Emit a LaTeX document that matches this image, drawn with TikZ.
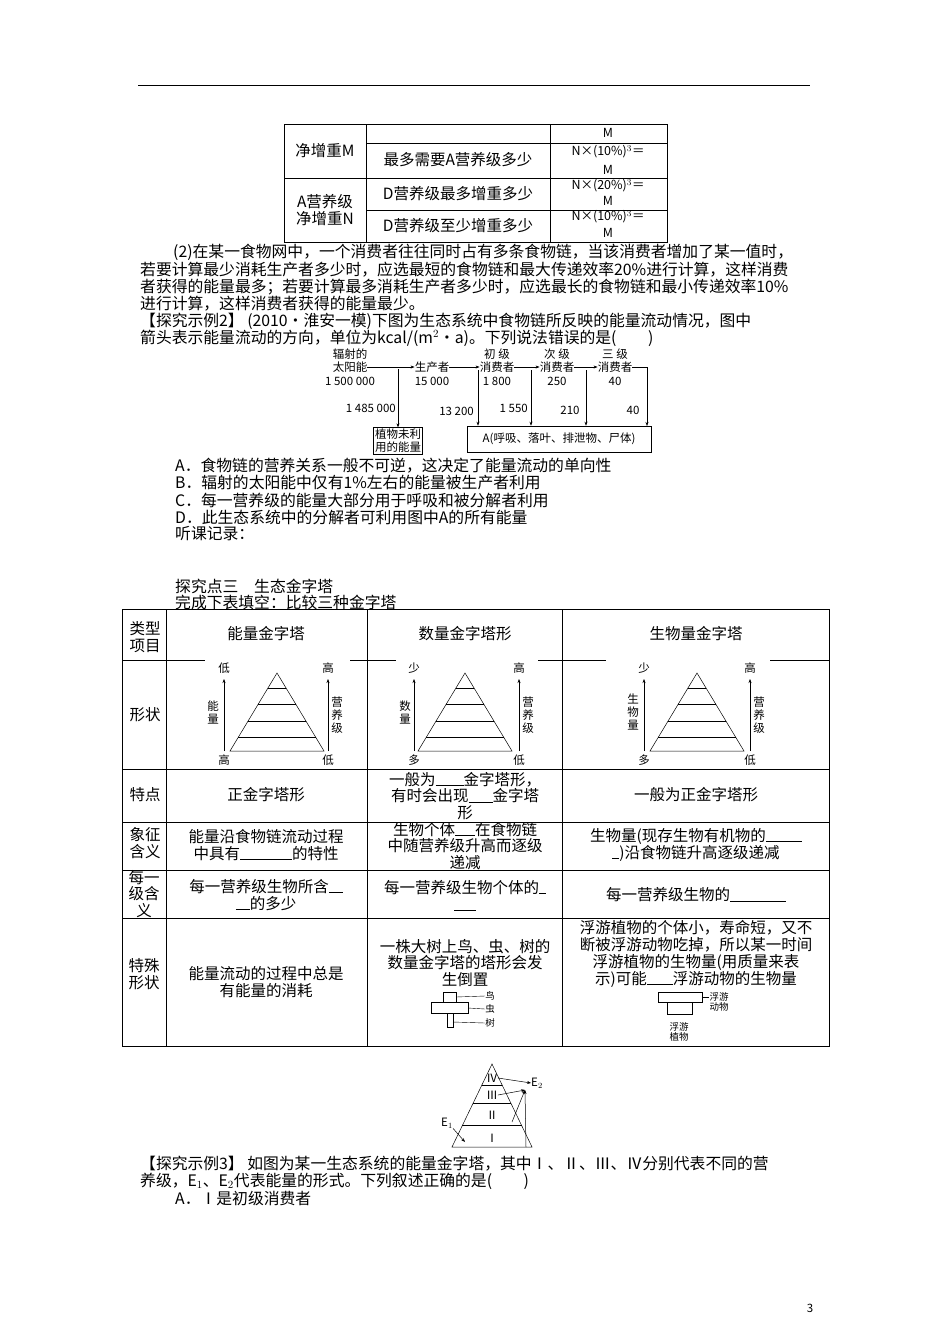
\documentclass[tikz,border=0pt]{standalone}
\usepackage{fontspec}
\setmainfont{Noto Sans CJK SC}
\usetikzlibrary{arrows.meta}
\begin{document}
\begin{tikzpicture}[x=1pt,y=-1pt,
  t/.style={anchor=west,inner sep=0,font=\fontsize{15.8}{17}\selectfont},
  c/.style={inner sep=0,font=\fontsize{15.5}{16.8}\selectfont},
  sm/.style={inner sep=0,font=\fontsize{11.5}{13}\selectfont},
  mm/.style={inner sep=0,font=\fontsize{12.5}{14}\selectfont},
  tn/.style={inner sep=0,font=\fontsize{9.5}{10.5}\selectfont},
  arr/.style={-{Stealth[length=4pt,width=3pt]},line width=0.5pt},
  ln/.style={line width=0.6pt}]
\useasboundingbox (0,0) rectangle (950,1344);
\fill[white] (0,0) rectangle (950,1344);
\draw[line width=0.8pt] (138,85) -- (810,85);
% top table
\draw[ln] (284,124) rectangle (667,242);
\draw[ln] (366,124)--(366,242) (550,124)--(550,242);
\draw[ln] (366,143)--(667,143) (284,178)--(667,178) (366,210)--(667,210);
\node[c] (ta) at (325,151) {净增重M};
\node[c,align=center] (tb) at (325,210) {A营养级\\净增重N};
\node[c] (tc) at (458,160) {最多需要A营养级多少};
\node[c] (td) at (458,194) {D营养级最多增重多少};
\node[c] (te) at (458,226) {D营养级至少增重多少};
\node[mm] at (608,133) {M};
\node[mm] at (608,152) {N×(10\%)$^3$＝};
\node[mm] at (608,170) {M};
\node[mm] at (608,186) {N×(20\%)$^3$＝};
\node[mm] at (608,201) {M};
\node[mm] at (608,217) {N×(10\%)$^3$＝};
\node[mm] at (608,233) {M};
% paragraph
\node[t] at (173,252) {(2)在某一食物网中，一个消费者往往同时占有多条食物链，当该消费者增加了某一值时，};
\node[t] at (140,270) {若要计算最少消耗生产者多少时，应选最短的食物链和最大传递效率20\%进行计算，这样消费};
\node[t] at (140,287) {者获得的能量最多；若要计算最多消耗生产者多少时，应选最长的食物链和最小传递效率10\%};
\node[t] at (140,304) {进行计算，这样消费者获得的能量最少。};
\node[t] at (140,321) {【探究示例2】 (2010·淮安一模)下图为生态系统中食物链所反映的能量流动情况，图中};
\node[t] at (140,338) {箭头表示能量流动的方向，单位为kcal/(m$^2$·a)。下列说法错误的是(　　)};
% energy flow diagram
\node[sm] at (350,354) {辐射的};
\node[sm] (sun) at (350,367) {太阳能};
\node[sm] at (350,381) {1 500 000};
\node[sm] (prod) at (432,367) {生产者};
\node[sm] at (432,381) {15 000};
\node[sm] at (497,354) {初 级};
\node[sm] (c1) at (497,367) {消费者};
\node[sm] at (497,381) {1 800};
\node[sm] at (557,354) {次 级};
\node[sm] (c2) at (557,367) {消费者};
\node[sm] at (557,381) {250};
\node[sm] at (615,354) {三 级};
\node[sm] (c3) at (615,367) {消费者};
\node[sm] at (615,381) {40};
\draw[arr] (sun.east)--(prod.west);
\draw[arr] (prod.east)--(c1.west);
\draw[arr] (c1.east)--(c2.west);
\draw[arr] (c2.east)--(c3.west);
\node[sm,draw,align=center,inner sep=1.5pt,line width=0.6pt] (un) at (398,441) {植物未利\\用的能量};
\node[sm,draw,inner sep=4pt,minimum width=184pt,minimum height=26pt,line width=0.6pt] (A) at (559,439) {A(呼吸、落叶、排泄物、尸体)};
\coordinate (p0) at (398,369);
\coordinate (p1) at (478,370);
\coordinate (p2) at (531,370);
\coordinate (p3) at (586,370);
\draw[arr] (p0)--(un.north);
\draw[arr] (p1)--(p1|-A.north);
\draw[arr] (p2)--(p2|-A.north);
\draw[arr] (p3)--(p3|-A.north);
\draw[arr] (c3.east)--(647,367)--(647,426);
\node[sm,anchor=east] at (396,408) {1 485 000};
\node[sm,anchor=east] at (474,411) {13 200};
\node[sm,anchor=east] at (528,408) {1 550};
\node[sm] at (570,410) {210};
\node[sm] at (633,410) {40};
% options
\node[t] at (175,466) {A．食物链的营养关系一般不可逆，这决定了能量流动的单向性};
\node[t] at (175,483) {B．辐射的太阳能中仅有1\%左右的能量被生产者利用};
\node[t] at (175,500) {C．每一营养级的能量大部分用于呼吸和被分解者利用};
\node[t] at (175,517) {D．此生态系统中的分解者可利用图中A的所有能量};
\node[t] at (175,534) {听课记录：};
\node[t] at (175,586) {探究点三　生态金字塔};
\node[t] at (175,602) {完成下表填空：比较三种金字塔};
% big table
\draw[ln] (122,609) rectangle (829,1046);
\draw[ln] (166,609)--(166,1046) (367,609)--(367,1046) (562,609)--(562,1046);
\draw[ln] (122,660)--(205,660) (350,660)--(396,660) (538,660)--(606,660) (770,660)--(829,660);
\draw[ln] (122,769)--(829,769) (122,822)--(829,822) (122,870)--(829,870) (122,918)--(829,918);
\node[c,align=center] at (145,637) {类型\\项目};
\node[c] at (266,634) {能量金字塔};
\node[c] at (465,634) {数量金字塔形};
\node[c] at (696,634) {生物量金字塔};
\node[c] at (145,715) {形状};
% pyramids
\foreach \ax/\la/\ra/\lt/\lb/\vl/\vx in {277/224/328/低/高/能\\量/213, 465/414/519/少/多/数\\量/405, 697/644/750/少/多/生\\物\\量/633}{
  \draw[line width=0.5pt] (\ax,673)--(\ax-47,751)--(\ax+47,751)--cycle;
  \foreach \yy in {688,704,721,737}{
    \pgfmathsetmacro\dd{47*(\yy-673)/78}
    \draw[line width=0.5pt] (\ax-\dd,\yy)--(\ax+\dd,\yy);}
  \draw[arr,line width=0.4pt] (\la,751)--(\la,679);
  \draw[arr,line width=0.4pt] (\ra,751)--(\ra,679);
  \node[sm] at (\la,668) {\lt};
  \node[sm] at (\la,760) {\lb};
  \node[sm] at (\ra,668) {高};
  \node[sm] at (\ra,760) {低};
  \node[sm,align=center] at (\vx,712) {\vl};
  \node[sm,align=center] at (\ra+9,715) {营\\养\\级};
}
\node[c] at (145,795) {特点};
\node[c] at (266,795) {正金字塔形};
\node[c,align=center] at (465,796) {一般为\rule{28pt}{0.4pt}金字塔形，\\有时会出现\rule{24pt}{0.4pt}金字塔\\形};
\node[c] at (696,795) {一般为正金字塔形};
\node[c,align=center] at (145,843) {象征\\含义};
\node[c,align=center] at (266,845) {能量沿食物链流动过程\\中具有\rule{52pt}{0.4pt}的特性};
\node[c,align=center] at (465,846) {生物个体\rule{20pt}{0.4pt}在食物链\\中随营养级升高而逐级\\递减};
\node[c,align=center] at (696,845) {生物量(现存生物有机物的\rule{36pt}{0.4pt}\\\rule{7pt}{0.4pt})沿食物链升高逐级递减};
\node[c,align=center] at (144,894) {每一\\级含\\义};
\node[c,align=center] at (266,895) {每一营养级生物所含\rule{14pt}{0.4pt}\\\rule{14pt}{0.4pt}的多少};
\node[c,align=center] at (465,895) {每一营养级生物个体的\rule{7pt}{0.4pt}\\\rule{22pt}{0.4pt}};
\node[c] at (696,895) {每一营养级生物的\rule{56pt}{0.4pt}};
\node[c,align=center] at (144,974) {特殊\\形状};
\node[c,align=center] at (266,982) {能量流动的过程中总是\\有能量的消耗};
\node[c,align=center] at (465,963) {一株大树上鸟、虫、树的\\数量金字塔的塔形会发\\生倒置};
\node[c,align=center] at (696,954) {浮游植物的个体小，寿命短，又不\\断被浮游动物吃掉，所以某一时间\\浮游植物的生物量(用质量来表\\示)可能\rule{26pt}{0.4pt}浮游动物的生物量};
% bird/insect/tree
\draw[line width=0.5pt] (443,992) rectangle (456,1002);
\draw[line width=0.5pt] (431,1002) rectangle (468,1013);
\draw[line width=0.5pt] (447,1013) rectangle (453,1027);
\node[tn] (bird) at (490,996) {鸟};
\node[tn] (bug) at (490,1009) {虫};
\node[tn] (tree) at (490,1023) {树};
\draw[line width=0.4pt] (456,997)--(bird.west);
\draw[line width=0.4pt] (468,1008)--(bug.west);
\draw[line width=0.4pt] (453,1022)--(tree.west);
% plankton
\draw[line width=0.5pt] (658,992) rectangle (702,1002);
\draw[line width=0.5pt] (667,1002) rectangle (692,1014);
\node[tn,align=center] (zoo) at (719,1002) {浮游\\动物};
\draw[line width=0.4pt] (702,997)--(709,997);
\node[tn,align=center] (phy) at (679,1032) {浮游\\植物};
% energy pyramid
\draw[line width=0.5pt] (492,1064)--(452,1147)--(532,1147)--cycle;
\draw[line width=0.5pt] (482,1085)--(502,1085) (473,1103)--(511,1103) (462,1125)--(522,1125);
\node[sm] (l4) at (492,1078) {Ⅳ};
\node[sm] (l3) at (492,1095) {Ⅲ};
\node[sm] (l2) at (492,1115) {Ⅱ};
\node[sm] (l1) at (492,1138) {Ⅰ};
\node[sm] (e2) at (537,1083) {E$_2$};
\node[sm] (e1) at (447,1123) {E$_1$};
\coordinate (eh) at (525,1090);
\draw[arr] (l4.east)--(e2.west);
\draw[arr] (l3.east)--(eh);
\draw[arr] (512,1122)--(eh);
\draw[arr] (526,1147)--(eh);
\draw[arr] (e1.south east)--(465,1142);
% bottom text
\node[t] at (140,1164) {【探究示例3】 如图为某一生态系统的能量金字塔，其中Ⅰ、Ⅱ、Ⅲ、Ⅳ分别代表不同的营};
\node[t] at (140,1181) {养级，E$_1$、E$_2$代表能量的形式。下列叙述正确的是(　　)};
\node[t] at (175,1198) {A．Ⅰ是初级消费者};
\node[sm] at (810,1308) {3};
\end{tikzpicture}
\end{document}
